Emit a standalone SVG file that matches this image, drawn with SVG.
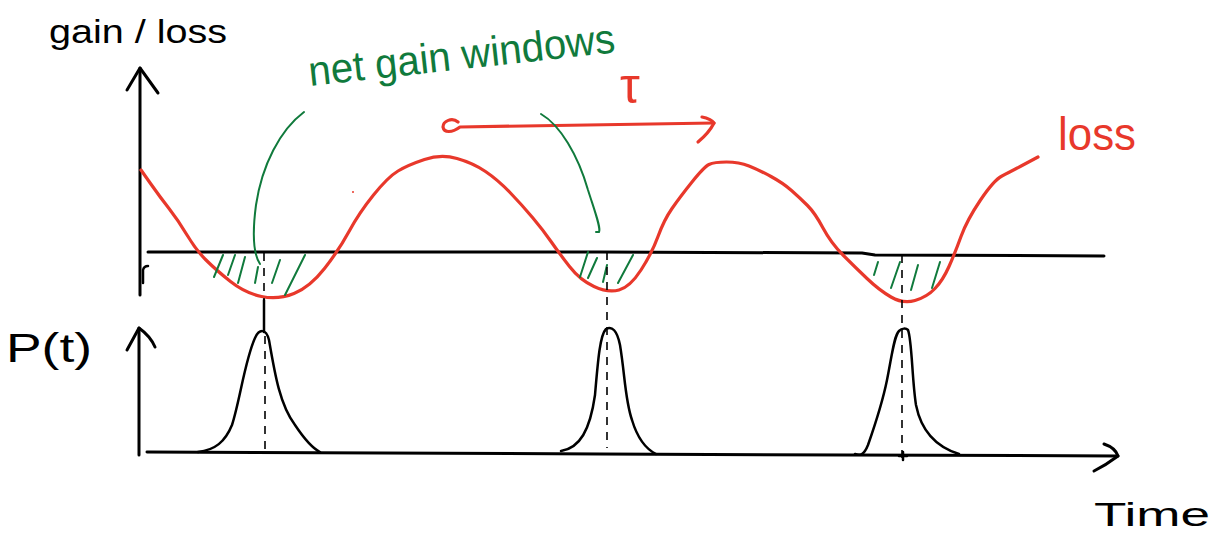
<svg xmlns="http://www.w3.org/2000/svg" width="1225" height="534" viewBox="0 0 1225 534">
<style>
.ink{fill:none;stroke:#000;stroke-width:3;stroke-linecap:round;stroke-linejoin:round}
.thin{fill:none;stroke:#000;stroke-width:2.5;stroke-linecap:round;stroke-linejoin:round}
.dash{fill:none;stroke:#000;stroke-width:1.6;stroke-dasharray:8 7}
.red{fill:none;stroke:#e8382b;stroke-width:3.2;stroke-linecap:round;stroke-linejoin:round}
.green{fill:none;stroke:#107a3c;stroke-width:2;stroke-linecap:round;stroke-linejoin:round}
.t{font-family:"Liberation Sans",Arial,sans-serif}
.tb{fill:#000}
.tr{fill:#e8382b}
.tg{fill:#107a3c}
</style>
<rect width="1225" height="534" fill="#fff"/>
<g id="labels">
<text class="t tb" x="49" y="43" font-size="34" textLength="178" lengthAdjust="spacingAndGlyphs">gain / loss</text>
<text class="t tg" x="310" y="86" font-size="42" textLength="308" lengthAdjust="spacingAndGlyphs" transform="rotate(-6.3 310 86)">net gain windows</text>
<text class="t tr" x="620" y="103" font-size="50">τ</text>
<text class="t tr" x="1058" y="150" font-size="46" textLength="78" lengthAdjust="spacingAndGlyphs">loss</text>
<text class="t tb" x="6" y="362" font-size="40" textLength="86" lengthAdjust="spacingAndGlyphs">P(t)</text>
<text class="t tb" x="1094" y="526" font-size="34" textLength="116" lengthAdjust="spacingAndGlyphs">Time</text>
</g>
<g id="axes">
<path class="ink" d="M140,68 L140,295"/>
<path class="ink" d="M127,90 L140,68 L158,93"/>
<path class="thin" d="M143,283 L143,270 Q144,266 148,266"/>
<path class="ink" d="M148,252 L600,252 L862,253 L875,255 L1104,256"/>
<path class="ink" d="M139,455 L139,328"/>
<path class="ink" d="M127,350 L139,328 C146,333 152,340 155,347"/>
<path class="ink" d="M147,452 L600,454 L1118,456"/>
<path class="ink" d="M1104,444 C1110,446 1116,450 1118,456 C1110,462 1102,467 1094,471"/>
</g>
<g id="loss-curve">
<path class="red" d="M141,170 L150.5,183.5 Q160,197 169,208.5 Q178,220 187,235 Q196,250 206,260 Q216,270 230.5,281.5 Q245,293 261.5,296.5 Q278,300 294,293.5 Q310,287 324.5,268.5 Q339,250 349,231.5 Q359,213 373.5,195 Q388,177 398,171 Q408,165 424.5,159.5 Q441,154 457,158.5 Q473,163 485.5,171.5 Q498,180 510,192.5 Q522,205 532.5,217.5 Q543,230 551,241.5 Q559,253 569.5,266.5 Q580,280 594,286.5 Q608,293 619,290 Q630,287 641,270 Q652,253 658,236.5 Q664,220 672,208.5 Q680,197 692,182 Q704,167 709,164.5 Q714,162 726.5,162 Q739,162 749,166 Q759,170 771,176.5 Q783,183 791.5,190.5 Q800,198 807.5,205.5 Q815,213 823,228 Q831,243 843,255 Q855,267 867,278.5 Q879,290 891,297 Q903,304 915,300.5 Q927,297 935,288.5 Q943,280 949,266.5 Q955,253 961,236.5 Q967,220 980.5,200 Q994,180 1002,176 Q1010,172 1038,157"/>
<circle cx="353" cy="192" r="1" fill="#e8382b"/>
</g>
<g id="tau-arrow">
<path class="red" stroke-width="2.5" d="M458,122 C452,117 443,121 443,127 C444,133 452,133 460,127 L714,123"/>
<path class="red" stroke-width="2.5" d="M702,117 C708,118 713,121 714,123 C710,131 704,137 698,142"/>
</g>
<g id="gain-windows">
<path class="green" d="M223,255 L214,277 M235,255 L228,275 M245,257 L238,283 M258,267 L255,283 M280,260 L272,283 M305,255 L285,295"/>
<path class="green" d="M588,252 L580,277 M597,258 L588,278 M607,265 L603,282 M633,255 L618,283"/>
<path class="green" d="M878,262 L874,275 M900,262 L891,288 M918,265 L911,290 M940,262 L932,288"/>
<path class="green" d="M304,112 C280,130 262,165 256,205 C252,235 254,255 260,264"/>
<path class="green" d="M541,114 C560,125 578,155 588,190 C596,215 601,228 599,232 L596,232"/>
</g>
<g id="pulses">
<path class="thin" d="M198,452 C215,450 225,442 232,425 C240,400 245,360 255,338 C259,329 266,328 269,340 C275,375 280,405 295,425 C305,440 312,448 320,452"/>
<path class="thin" d="M561,451 C580,448 590,430 595,395 C598,360 600,335 606,329 C612,326 617,330 620,345 C625,375 625,400 632,420 C638,440 648,450 656,454"/>
<path class="thin" d="M855,454 C860,456 864,455 868,445 C875,425 882,405 887,380 C892,355 894,336 899,331 C902,328 906,328 908,330 C912,340 912,380 916,405 C920,425 930,445 959,454"/>
<path class="thin" d="M899,456 L907,456 M903,452 L903,460"/>
</g>
<g id="markers">
<path class="dash" d="M264,253 L264,300"/>
<path class="thin" stroke-width="2" d="M264,300 L264,332"/>
<path class="dash" d="M265,336 L265,456"/>
<path class="dash" d="M607,252 L607,448"/>
<path class="dash" d="M902,255 L902,462"/>
</g>
</svg>
